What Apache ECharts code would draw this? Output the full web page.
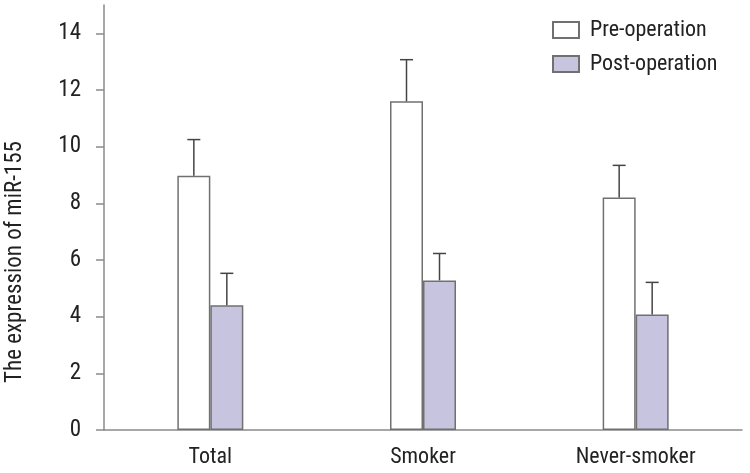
<!DOCTYPE html>
<html>
<head>
<meta charset="utf-8">
<script src="https://cdn.jsdelivr.net/npm/echarts@6/dist/echarts.min.js"></script>
<style>
html, body { margin: 0; padding: 0; background: #fff; }
#main { width: 750px; height: 473px; }
</style>
</head>
<body>
<div id="main"></div>
<script>
// data
var groups = ['Total', 'Smoker', 'Never-smoker']
var preMean = [8.97, 11.6, 8.21]
var preErr = [1.28, 1.47, 1.13]
var postMean = [4.4, 5.28, 4.08]
var postErr = [1.13, 0.95, 1.13]
var yTicks = [0, 2, 4, 6, 8, 10, 12, 14]

var font = "'Liberation Sans Narrow', 'Roboto Condensed', 'Noto Sans', sans-serif"
var axisColor = '#8a8a8a'
var barBorder = '#707070'
var errColor = '#444'
var barW = 33

// upward-only error bar with a cap
function errBar (offset) {
  return function (params, api) {
    var base = api.coord([api.value(0), api.value(1)])
    var top = api.coord([api.value(0), api.value(2)])
    var cx = base[0] + offset
    var st = { stroke: errColor, lineWidth: 1.5 }
    return {
      type: 'group',
      children: [
        { type: 'line', shape: { x1: cx, y1: base[1], x2: cx, y2: top[1] }, style: st },
        { type: 'line', shape: { x1: cx - 6.5, y1: top[1], x2: cx + 6.5, y2: top[1] }, style: st }
      ]
    }
  }
}

var preErrData = []
var postErrData = []
for (var i = 0; i < groups.length; i++) {
  preErrData.push([i, preMean[i], preMean[i] + preErr[i]])
  postErrData.push([i, postMean[i], postMean[i] + postErr[i]])
}

var myChart = echarts.init(document.getElementById('main'))
myChart.setOption({
  animation: false,
  textStyle: { fontFamily: font },
  grid: { left: 104, right: 8, top: 5, bottom: 43 },
  legend: {
    orient: 'vertical',
    left: 552,
    top: 19,
    padding: 0,
    itemWidth: 26,
    itemHeight: 16,
    itemGap: 12,
    icon: 'rect',
    data: ['Pre-operation', 'Post-operation'],
    textStyle: { fontFamily: font, fontSize: 22, lineHeight: 22, color: '#222', padding: [0, 0, 0, 6] }
  },
  xAxis: {
    type: 'category',
    data: groups,
    axisLine: { lineStyle: { color: axisColor, width: 1.5 } },
    axisTick: { alignWithLabel: true, length: 8, lineStyle: { color: axisColor, width: 1.5 } },
    axisLabel: { color: '#222', fontSize: 22, fontFamily: font, margin: 16 }
  },
  yAxis: {
    type: 'value',
    min: 0,
    max: 15,
    splitLine: { show: false },
    axisLine: { show: true, lineStyle: { color: axisColor, width: 1.5 } },
    axisTick: { show: true, length: 8, customValues: yTicks, lineStyle: { color: axisColor, width: 1.5 } },
    axisLabel: { customValues: yTicks, color: '#222', fontSize: 23, fontFamily: font, margin: 23 }
  },
  graphic: [{
    type: 'text',
    x: 15,
    y: 262,
    rotation: Math.PI / 2,
    style: {
      text: 'The expression of miR-155',
      font: '23px ' + font,
      fill: '#222',
      align: 'center',
      verticalAlign: 'middle',
      textAlign: 'center',
      textVerticalAlign: 'middle'
    }
  }],
  series: [
    {
      name: 'Pre-operation',
      type: 'bar',
      barWidth: barW,
      barGap: '0%',
      data: preMean,
      itemStyle: { color: '#ffffff', borderColor: barBorder, borderWidth: 1.5 }
    },
    {
      name: 'Post-operation',
      type: 'bar',
      barWidth: barW,
      barGap: '0%',
      data: postMean,
      itemStyle: { color: '#c6c4df', borderColor: barBorder, borderWidth: 1.5 }
    },
    { type: 'custom', z: 3, data: preErrData, renderItem: errBar(-barW / 2) },
    { type: 'custom', z: 3, data: postErrData, renderItem: errBar(barW / 2) }
  ]
})
</script>
</body>
</html>
